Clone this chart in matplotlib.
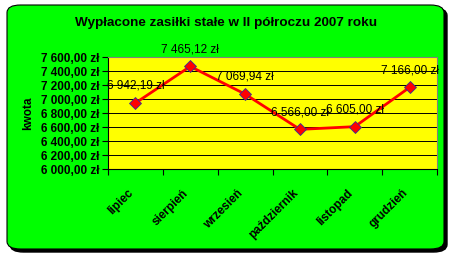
import matplotlib

matplotlib.use("Agg")
import matplotlib.pyplot as plt
import matplotlib.transforms as mtransforms
import numpy as np
from matplotlib.patches import FancyBboxPatch
from matplotlib.ticker import FuncFormatter, MultipleLocator

plt.rcParams["font.family"] = ["Liberation Sans", "DejaVu Sans"]

months = ["lipiec", "sierpień", "wrzesień", "październik", "listopad", "grudzień"]
amounts = [6942.19, 7465.12, 7069.94, 6566.00, 6605.00, 7166.00]
title = "Wypłacone zasiłki stałe w II półroczu 2007 roku"
y_label = "kwota"


def zl(v: float) -> str:
    whole, frac = f"{v:,.2f}".split(".")
    return whole.replace(",", " ") + "," + frac + " zł"


fig = plt.figure(figsize=(4.5, 2.54), dpi=100)
fig.patch.set_facecolor("white")

# shadow + green rounded panel
shadow = FancyBboxPatch((10 / 450, 2 / 254), 437 / 450, 244 / 254,
                        boxstyle="round,pad=0,rounding_size=0.03",
                        transform=fig.transFigure, facecolor="black",
                        edgecolor="black", zorder=0)
panel = FancyBboxPatch((7 / 450, 5 / 254), 437 / 450, 244 / 254,
                       boxstyle="round,pad=0,rounding_size=0.03",
                       transform=fig.transFigure, facecolor="#00FF00",
                       edgecolor="black", linewidth=0.8, zorder=1)
fig.patches.extend([shadow, panel])

ax = fig.add_axes([108 / 450, 1 - 169 / 254, 329 / 450, 112 / 254])
ax.set_facecolor("#FFFF00")
ax.set_zorder(2)

x = np.arange(len(months))
ax.plot(x, amounts, color="#FF0000", linewidth=2, marker="D", markersize=6.5,
        markerfacecolor="#FF0000", markeredgecolor="#333399",
        markeredgewidth=0.6, zorder=3)
for xi, v in zip(x, amounts):
    ax.annotate(zl(v), (xi, v), xytext=(0, 12.5), textcoords="offset points",
                ha="center", va="center", fontsize=8.5, color="black",
                annotation_clip=False, zorder=4)

ax.set_xlim(-0.5, len(months) - 0.5)
ax.set_ylim(6000, 7600)
ax.yaxis.set_major_locator(MultipleLocator(200))
ax.yaxis.set_major_formatter(FuncFormatter(lambda v, _: zl(v)))
ax.grid(axis="y", color="black", linewidth=0.7)
ax.set_axisbelow(True)

ax.set_xticks(x)
ax.set_xticklabels(months, rotation=45, ha="right", va="top",
                   rotation_mode="anchor", fontsize=8.5, fontweight="bold")
ax.set_xticks(np.arange(-0.5, len(months)), minor=True)
ax.tick_params(axis="x", which="major", length=0, pad=13)
ax.tick_params(axis="x", which="minor", length=4, width=0.8, direction="out")
ax.tick_params(axis="y", length=4, width=0.8, direction="out", pad=2)
for lab in ax.get_yticklabels():
    lab.set_fontsize(8.5)
    lab.set_fontweight("bold")

# month labels sit a little left of the category centre
shift = mtransforms.ScaledTranslation(-8 / 100, 0, fig.dpi_scale_trans)
for lab in ax.get_xticklabels():
    lab.set_transform(lab.get_transform() + shift)

for side in ("top", "right"):
    ax.spines[side].set_color("#808080")
for side in ("left", "bottom"):
    ax.spines[side].set_color("black")

ax.set_ylabel(y_label, fontsize=8.5, fontweight="bold", labelpad=5)
fig.text(226 / 450, 1 - 23 / 254, title, ha="center", va="center",
         fontsize=9.7, fontweight="bold")

fig.savefig("out.png", dpi=100, facecolor=fig.get_facecolor())
